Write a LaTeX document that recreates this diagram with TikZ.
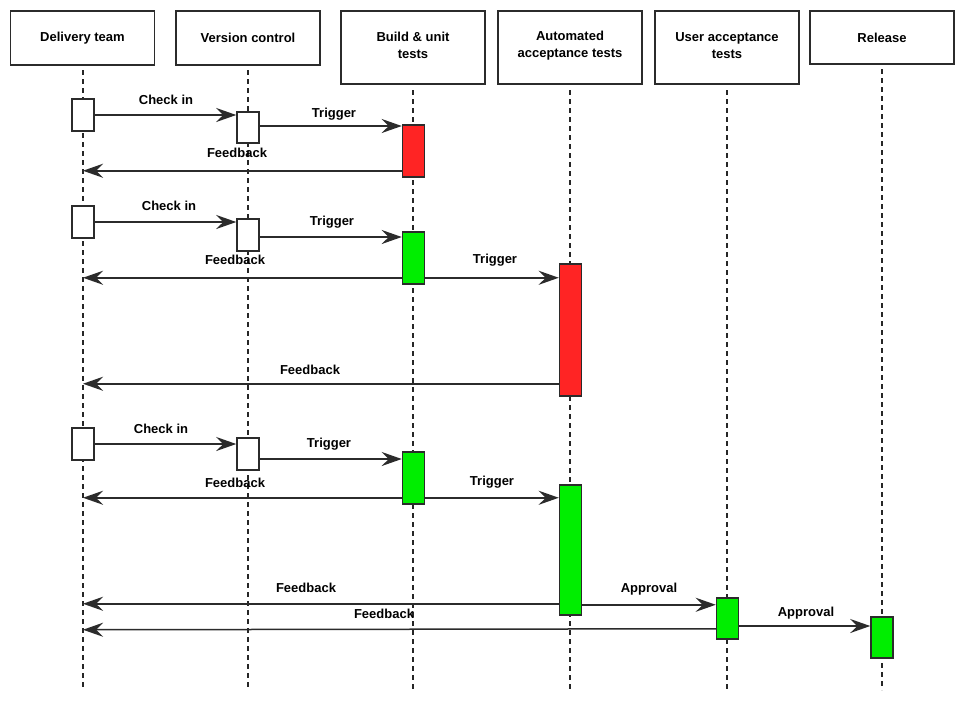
\documentclass[tikz,border=0pt]{standalone}
\usepackage{fontspec}
\setmainfont{Liberation Sans}
\usetikzlibrary{arrows.meta}
\definecolor{edge}{HTML}{2B2B2B}
\definecolor{failred}{HTML}{FF2424}
\definecolor{passgreen}{HTML}{00EE00}
\tikzset{
  head/.style={draw=edge, line width=1.5pt, fill=white, minimum width=144pt, inner sep=0pt},
  headtext/.style={font=\fontsize{13}{17}\selectfont\bfseries, align=center, inner sep=0pt},
  lifeline/.style={draw=black!85, line width=1.4pt, dash pattern=on 5pt off 4pt},
  act/.style={draw=edge, line width=1.5pt, minimum width=22pt, inner sep=0pt},
  msg/.style={draw=edge, line width=1.5pt, -{Stealth[length=20pt, width=14pt, inset=7pt]}},
  lbl/.style={font=\fontsize{13}{15}\selectfont\bfseries, inner sep=0pt},
}
\begin{document}
\begin{tikzpicture}[x=1pt, y=-1pt]
\useasboundingbox[fill=white] (0,0) rectangle (965,724);

% participants
\node[head, minimum height=54pt] (dt)  at (82.5,38)  {};
\node[head, minimum height=54pt] (vc)  at (248,38)   {};
\node[head, minimum height=73pt] (bu)  at (413,47.5) {};
\node[head, minimum height=73pt] (aat) at (570,47.5) {};
\node[head, minimum height=73pt] (uat) at (727,47.5) {};
\node[head, minimum height=53pt] (rel) at (882,37.5) {};
\node[headtext] (dtT)  at (82.5,38)  {Delivery team};
\node[headtext] (vcT)  at (248,38)   {Version control};
\node[headtext] (buT)  at (413,45.5) {Build \& unit\\tests};
\node[headtext] (aatT) at (570,45.5) {Automated\\acceptance tests};
\node[headtext] (uatT) at (727,45.5) {User acceptance\\tests};
\node[headtext] (relT) at (882,37.5) {Release};

% lifelines
\coordinate (Ldt)  at (83,70);   \coordinate (Edt)  at (83,690);
\coordinate (Lvc)  at (248,70);  \coordinate (Evc)  at (248,690);
\coordinate (Lbu)  at (413,90);  \coordinate (Ebu)  at (413,690);
\coordinate (Laat) at (570,90);  \coordinate (Eaat) at (570,690);
\coordinate (Luat) at (727,90);  \coordinate (Euat) at (727,690);
\coordinate (Lrel) at (882,69);  \coordinate (Erel) at (882,690);
\foreach \a/\b in {Ldt/Edt, Lvc/Evc, Lbu/Ebu, Laat/Eaat, Luat/Euat, Lrel/Erel}
  \draw[lifeline] (\a) -- (\b);

% activations, first cycle
\node[act, fill=white, minimum height=32pt] (dt1) at (83,115)   {};
\node[act, fill=white, minimum height=31pt] (vc1) at (248,127.5) {};
\node[act, fill=failred, minimum height=52pt] (bu1) at (413.5,151) {};

% activations, second cycle
\node[act, fill=white, minimum height=32pt] (dt2) at (83,222)   {};
\node[act, fill=white, minimum height=32pt] (vc2) at (248,235)  {};
\node[act, fill=passgreen, minimum height=52pt] (bu2) at (413.5,258) {};
\node[act, fill=failred, minimum height=132pt] (aat2) at (570.5,330) {};

% activations, third cycle
\node[act, fill=white, minimum height=32pt] (dt3) at (83,444)   {};
\node[act, fill=white, minimum height=32pt] (vc3) at (248,454)  {};
\node[act, fill=passgreen, minimum height=52pt] (bu3) at (413.5,478) {};
\node[act, fill=passgreen, minimum height=130pt] (aat3) at (570.5,550) {};
\node[act, fill=passgreen, minimum height=41pt] (uat3) at (727.5,618.5) {};
\node[act, fill=passgreen, minimum height=41pt] (rel3) at (882,637.5) {};

% messages, first cycle
\draw[msg] (dt1.east) -- (dt1.east -| vc1.west);
\draw[msg] ([yshift=1.5pt]vc1.east) -- ([yshift=1.5pt]vc1.east -| bu1.west);
\draw[msg] ([yshift=7pt]bu1.south west) -- ([yshift=7pt]bu1.south west -| Ldt);

% messages, second cycle
\draw[msg] (dt2.east) -- (dt2.east -| vc2.west);
\draw[msg] ([yshift=-2pt]vc2.east) -- ([yshift=-2pt]vc2.east -| bu2.west);
\draw[msg] ([yshift=7pt]bu2.south west) -- ([yshift=7pt]bu2.south west -| Ldt);
\draw[msg] ([yshift=7pt]bu2.south east) -- ([yshift=7pt]bu2.south east -| aat2.west);
\draw[msg] ([yshift=13pt]aat2.south west) -- ([yshift=13pt]aat2.south west -| Ldt);

% messages, third cycle
\draw[msg] (dt3.east) -- (dt3.east -| vc3.west);
\draw[msg] ([yshift=-5pt]vc3.east) -- ([yshift=-5pt]vc3.east -| bu3.west);
\draw[msg] ([yshift=7pt]bu3.south west) -- ([yshift=7pt]bu3.south west -| Ldt);
\draw[msg] ([yshift=7pt]bu3.south east) -- ([yshift=7pt]bu3.south east -| aat3.west);
\draw[msg] ([yshift=12pt]aat3.south west) -- ([yshift=12pt]aat3.south west -| Ldt);
\draw[msg] ([yshift=11pt]aat3.south east) -- ([yshift=11pt]aat3.south east -| uat3.west);
\draw[msg] ([yshift=11pt]uat3.south west) -- ([yshift=10pt]uat3.south west -| Ldt);
\draw[msg] ([yshift=-7.5pt]uat3.east) -- ([yshift=-7.5pt]uat3.east -| rel3.west);

% message labels
\node[lbl] (l1)  at (166,100) {Check in};
\node[lbl] (l2)  at (334,114) {Trigger};
\node[lbl] (l3)  at (237,153) {Feedback};
\node[lbl] (l4)  at (169,206) {Check in};
\node[lbl] (l5)  at (332,222) {Trigger};
\node[lbl] (l6)  at (235,260) {Feedback};
\node[lbl] (l7)  at (495,260) {Trigger};
\node[lbl] (l8)  at (310,370) {Feedback};
\node[lbl] (l9)  at (161,429) {Check in};
\node[lbl] (l10) at (329,444) {Trigger};
\node[lbl] (l11) at (235,483) {Feedback};
\node[lbl] (l12) at (492,482) {Trigger};
\node[lbl] (l13) at (306,588) {Feedback};
\node[lbl] (l14) at (649,589) {Approval};
\node[lbl] (l15) at (384,614) {Feedback};
\node[lbl] (l16) at (806,613) {Approval};
\end{tikzpicture}
\end{document}
